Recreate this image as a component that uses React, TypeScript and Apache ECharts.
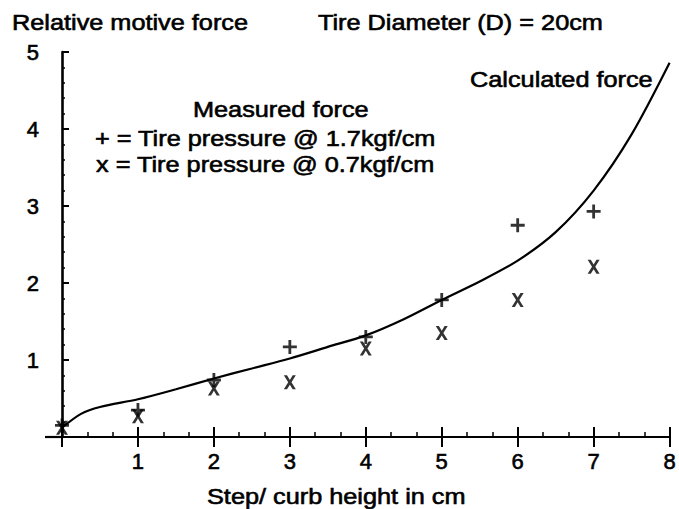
import React, { useEffect, useRef } from "react";
import * as echarts from "echarts";

const xTicks = [0, 1, 2, 3, 4, 5, 6, 7, 8];
const yTicks = [0, 1, 2, 3, 4, 5];

const calcX = [0, 0.25, 0.5, 1, 1.5, 2, 2.5, 3, 3.5, 4, 4.5, 5, 5.5, 6, 6.5, 7, 7.5, 8];
const calcY = [0.12, 0.3, 0.39, 0.49, 0.62, 0.76, 0.89, 1.02, 1.17, 1.32, 1.53, 1.78, 2.02, 2.29, 2.66, 3.2, 3.93, 4.86];

const measX = [0, 1, 2, 3, 4, 5, 6, 7];
const plusY = [0.15, 0.35, 0.74, 1.17, 1.3, 1.78, 2.75, 2.93];
const crossY = [0.12, 0.27, 0.63, 0.71, 1.15, 1.35, 1.78, 2.21];

const FONT = "'Liberation Sans', Arial, Helvetica, sans-serif";
const FS = 22;
const SX = 1.15;
const TB = 0.6;

const PLUS = "path://M5.2,0h2.6v5.2h5.2v2.6h-5.2v5.2h-2.6v-5.2h-5.2v-2.6h5.2z";
const CROSS = "path://M0,0L2.9,0L5.5,4.3L8.1,0L11,0L7,6.5L11,13L8.1,13L5.5,8.7L2.9,13L0,13L4,6.5Z";

function txt(text: string, left: number, baseline: number) {
  return {
    type: "text",
    x: left,
    y: baseline - 0.3465 * FS,
    scaleX: SX,
    style: {
      text,
      fontSize: FS,
      fontFamily: FONT,
      fill: "#000",
      stroke: "#000",
      lineWidth: TB,
      align: "left",
      verticalAlign: "middle",
    },
  };
}

export default function App() {
  const ref = useRef<HTMLDivElement>(null);
  useEffect(() => {
    if (!ref.current) return;
    const chart = echarts.init(ref.current, null, { renderer: "svg" });
    const axisLabelCommon = {
      color: "#000",
      fontSize: FS,
      fontFamily: FONT,
      textBorderColor: "#000",
      textBorderWidth: TB,
    };
    chart.setOption({
      animation: false,
      backgroundColor: "#fff",
      grid: { left: 62, right: 7, top: 52, bottom: 72, containLabel: false },
      xAxis: [
        {
          type: "value",
          min: xTicks[0],
          max: xTicks[xTicks.length - 1],
          interval: 1,
          position: "bottom",
          axisLine: { show: true, onZero: false, lineStyle: { color: "#000", width: 2.2 } },
          axisTick: { show: true, inside: true, length: 10, lineStyle: { color: "#000", width: 2 } },
          minorTick: { show: true, splitNumber: 3, length: 5, lineStyle: { color: "#000", width: 1.5 } },
          splitLine: { show: false },
          axisLabel: {
            ...axisLabelCommon,
            margin: 13,
            formatter: (v: number) => (v === 0 ? "" : String(v)),
          },
        },
        {
          type: "value",
          min: xTicks[0],
          max: xTicks[xTicks.length - 1],
          interval: 1,
          position: "bottom",
          offset: 0,
          axisLine: { show: false },
          axisTick: { show: true, inside: false, length: 10, lineStyle: { color: "#000", width: 2 } },
          splitLine: { show: false },
          axisLabel: { show: false },
        },
      ],
      yAxis: {
        type: "value",
        min: yTicks[0],
        max: yTicks[yTicks.length - 1],
        interval: 1,
        axisLine: { show: true, onZero: false, lineStyle: { color: "#000", width: 2.6 } },
        axisTick: { show: true, inside: true, length: 7, lineStyle: { color: "#000", width: 2 } },
        minorTick: { show: true, splitNumber: 5, length: 3, lineStyle: { color: "#000", width: 1.5 } },
        splitLine: { show: false },
        axisLabel: {
          ...axisLabelCommon,
          margin: 23,
          formatter: (v: number) => (v === 0 ? "" : String(v)),
        },
      },
      series: [
        {
          type: "line",
          name: "Calculated force",
          data: calcX.map((x, i) => [x, calcY[i]]),
          smooth: 0.3,
          showSymbol: false,
          lineStyle: { color: "#000", width: 2.2 },
          z: 2,
        },
        {
          type: "scatter",
          name: "1.7kgf/cm",
          data: measX.map((x, i) => [x, plusY[i]]),
          symbol: PLUS,
          symbolSize: [14, 14],
          itemStyle: { color: "#000" },
          z: 3,
        },
        {
          type: "scatter",
          name: "0.7kgf/cm",
          data: measX.map((x, i) => [x, crossY[i]]),
          symbol: CROSS,
          symbolSize: [12, 14],
          itemStyle: { color: "#000" },
          z: 3,
        },
      ],
      graphic: [
        {
          type: "line",
          shape: { x1: 45, y1: 437, x2: 62, y2: 437 },
          style: { stroke: "#000", lineWidth: 2.2 },
        },
        txt("Relative motive force", 12, 30),
        txt("Tire Diameter (D) = 20cm", 318, 30),
        txt("Measured force", 193, 117),
        txt("+ = Tire pressure @ 1.7kgf/cm", 95, 146),
        txt("x = Tire pressure @ 0.7kgf/cm", 96, 172),
        txt("Calculated force", 470, 87),
        txt("Step/ curb height in cm", 207, 504),
      ],
    });
    return () => chart.dispose();
  }, []);
  return (
    <div
      ref={ref}
      style={{ position: "fixed", left: 0, top: 0, width: 679, height: 509, background: "#fff" }}
    />
  );
}
